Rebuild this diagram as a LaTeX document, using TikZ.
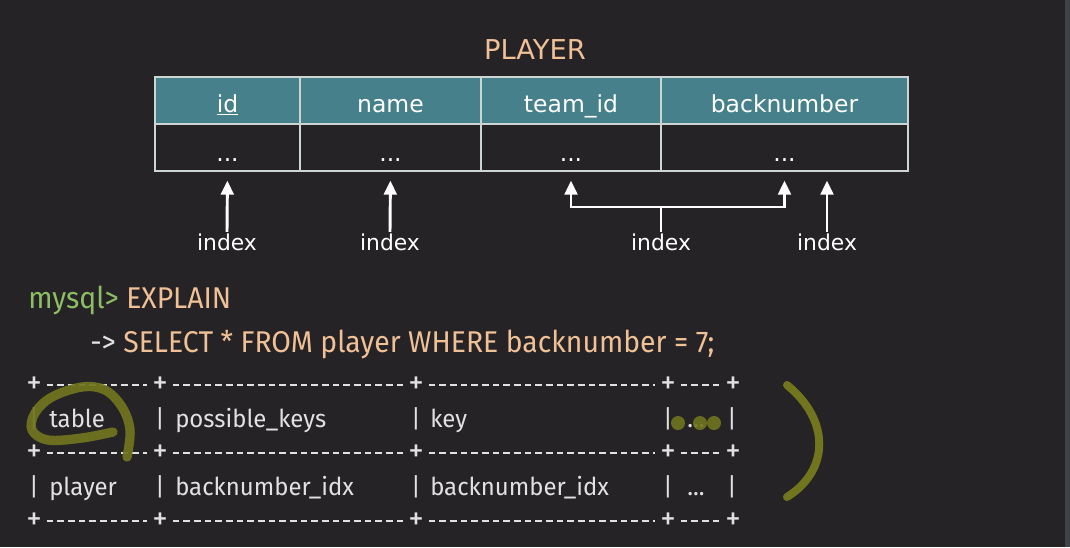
\documentclass[tikz,border=0pt]{standalone}
\usepackage{fontspec}
\usetikzlibrary{arrows.meta}
\setmainfont{DejaVu Sans}
\newfontfamily\sqlfont[FakeStretch=0.945]{Fira Sans}
\newfontfamily\gridfont[FakeStretch=0.97]{Fira Sans}
\definecolor{bgc}{RGB}{37,35,38}
\definecolor{stripc}{RGB}{62,67,74}
\definecolor{tealc}{RGB}{70,128,138}
\definecolor{gridc}{RGB}{205,212,212}
\definecolor{peach}{RGB}{240,192,150}
\definecolor{promptc}{RGB}{140,190,100}
\definecolor{textc}{RGB}{225,225,225}
\definecolor{markc}{RGB}{112,117,30}
\begin{document}
\begin{tikzpicture}[x=0.75pt,y=-0.75pt,
  hcell/.style={draw=gridc, line width=1.4pt, fill=tealc, text=white,
    minimum height=35.25pt, inner sep=0pt, text height=17.5pt, text depth=0pt,
    font=\fontsize{17.6}{20}\selectfont},
  dcell/.style={draw=gridc, line width=1.4pt, text=white,
    minimum height=35.25pt, inner sep=0pt, text height=20.5pt, text depth=0pt,
    font=\fontsize{17.6}{20}\selectfont},
  idxlabel/.style={text=white, inner sep=1pt, font=\fontsize{16.4}{18}\selectfont},
  pointer/.style={draw=white, line width=2.2pt,
    -{Triangle[width=9.5pt,length=10.5pt]}, shorten >=6.5pt},
  link/.style={draw=white, line width=2.2pt},
  sqltext/.style={anchor=base west, inner sep=0pt, font=\sqlfont\fontsize{22.5}{26}\selectfont},
  asciitext/.style={anchor=base west, inner sep=0pt, text=textc,
    font=\gridfont\fontsize{18.5}{22}\selectfont},
  bar/.style={anchor=base, inner sep=0pt, text=textc,
    font=\gridfont\fontsize{18.5}{22}\selectfont},
  plus/.style={text=textc, inner sep=0pt, font=\gridfont\fontsize{24}{26}\selectfont},
  rule/.style={draw=textc, line width=1.1pt, dash pattern=on 5pt off 3pt,
    shorten <=3.5pt, shorten >=3.5pt},
  marker/.style={draw=markc, line cap=round, line join=round}
]
% background and frame edge
\fill[bgc] (0,0) rectangle (1070,547);
\fill[stripc] (1065,0) rectangle (1070,547);

% table title
\node[text=peach, font=\fontsize{20.5}{24}\selectfont] (title) at (535,50) {PLAYER};

% PLAYER table: header row
\node[hcell, minimum width=108.75pt] (hid)   at (227.5,100.5) {\underline{id}};
\node[hcell, minimum width=135.75pt] (hname) at (390.5,100.5) {name};
\node[hcell, minimum width=135pt]    (hteam) at (571,100.5)   {team\_id};
\node[hcell, minimum width=185.25pt] (hback) at (784.5,100.5) {backnumber};
% PLAYER table: data row
\node[dcell, minimum width=108.75pt] (did)   at (227.5,147.5) {...};
\node[dcell, minimum width=135.75pt] (dname) at (390.5,147.5) {...};
\node[dcell, minimum width=135pt]    (dteam) at (571,147.5)   {...};
\node[dcell, minimum width=185.25pt] (dback) at (784.5,147.5) {...};

% index labels
\node[idxlabel] (ix1) at (227,242) {index};
\node[idxlabel] (ix2) at (390,242) {index};
\node[idxlabel] (ix3) at (661,242) {index};
\node[idxlabel] (ix4) at (827,242) {index};

% single-column indexes
\draw[pointer] (ix1.north) -- (did.south);
\draw[pointer] (ix2.north) -- (dname.south);
\draw[pointer] (ix4.north) -- (ix4.north |- dback.south);
% composite index on team_id + backnumber
\coordinate (fork) at (661,207);
\draw[link] (ix3.north) -- (fork);
\draw[pointer] (fork) -| (dteam.south);
\draw[pointer] (fork) -| (dback.south);

% query
\node[sqltext] (q1) at (28,308) {\textcolor{promptc}{mysql>} \textcolor{peach}{EXPLAIN}};
\node[sqltext] (q2) at (90,352) {\textcolor{textc}{->} \textcolor{peach}{SELECT * FROM player WHERE backnumber = 7;}};

% result grid: separator lines
\foreach \r/\y in {a/385,b/453,c/521}{
  \node[plus] (\r1) at (34,\y)  {+};
  \node[plus] (\r2) at (160,\y) {+};
  \node[plus] (\r3) at (416,\y) {+};
  \node[plus] (\r4) at (668,\y) {+};
  \node[plus] (\r5) at (733,\y) {+};
  \draw[rule] (\r1) -- (\r2);
  \draw[rule] (\r2) -- (\r3);
  \draw[rule] (\r3) -- (\r4);
  \draw[rule] (\r4) -- (\r5);
}
% result grid: column bars
\foreach \r/\y in {a/427,b/495}{
  \node[bar] (\r bar1) at (34,\y)  {|};
  \node[bar] (\r bar2) at (160,\y) {|};
  \node[bar] (\r bar3) at (416,\y) {|};
  \node[bar] (\r bar4) at (668,\y) {|};
  \node[bar] (\r bar5) at (732,\y) {|};
}
% result grid: cells
\node[asciitext] (t11) at (49,427)  {table};
\node[asciitext] (t12) at (175,427) {possible\_keys};
\node[asciitext] (t13) at (430,427) {key};
\node[asciitext, anchor=base] (t14) at (696,427) {...};
\node[asciitext] (t21) at (49,495)  {player};
\node[asciitext] (t22) at (175,495) {backnumber\_idx};
\node[asciitext] (t23) at (430,495) {backnumber\_idx};
\node[asciitext, anchor=base] (t24) at (696,495) {...};

% hand-drawn marks
\draw[marker, line width=7pt, opacity=0.92] plot[smooth, tension=0.6] coordinates
  {(113,432) (82,438) (48,440) (32,430) (35,413) (52,397) (82,387) (105,390) (122,407) (130,430) (127,457)};
\fill[markc, opacity=0.9] (678,423) circle (5.25pt);
\fill[markc, opacity=0.9] (700,423) circle (5.25pt);
\fill[markc, opacity=0.9] (714,423) circle (5.25pt);
\draw[marker, line width=6pt] (787,385) .. controls (830,420) and (830,470) .. (787,497);
\end{tikzpicture}
\end{document}
